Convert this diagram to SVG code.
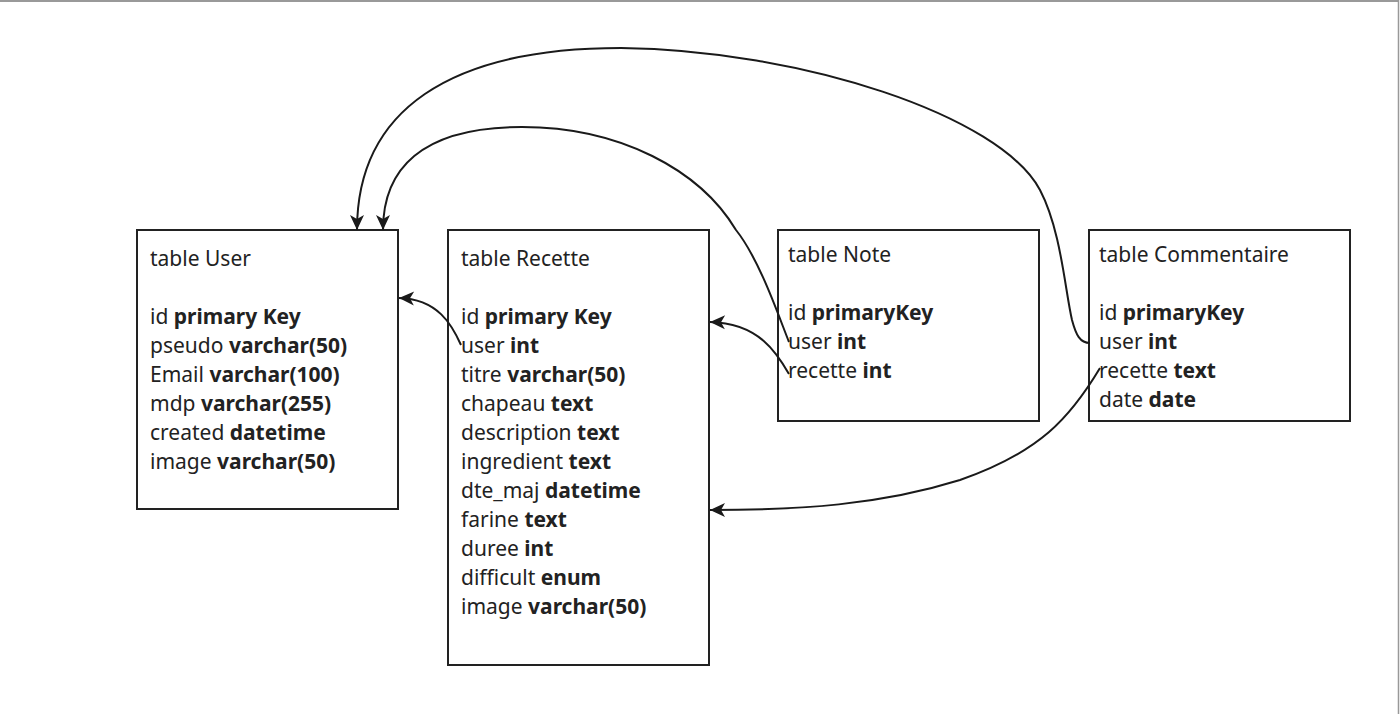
<svg xmlns="http://www.w3.org/2000/svg" width="1400" height="714" viewBox="0 0 1400 714">
<defs>
<style>
.box{fill:#fff;stroke:#222;stroke-width:2}
.t{font-family:"Noto Sans","Open Sans",sans-serif;font-size:21px;fill:#222}
.b{font-weight:bold}
.c{fill:none;stroke:#1a1a1a;stroke-width:2}
</style>
<marker id="arr" markerUnits="userSpaceOnUse" markerWidth="20" markerHeight="20" viewBox="-18 -10 20 20" refX="0" refY="0" orient="auto">
<path d="M0,0 L-15,-7 L-11,0 L-15,7 Z" fill="#1a1a1a"/>
</marker>
</defs>
<rect width="1400" height="714" fill="#fff"/>
<line x1="0" y1="1" x2="1399" y2="1" stroke="#999" stroke-width="2"/>
<line x1="1398.5" y1="0" x2="1398.5" y2="714" stroke="#999" stroke-width="1.5"/>

<g id="user">
<rect class="box" x="137" y="230" width="261" height="279"/>
<text class="t" x="150" y="266">table User</text>
<text class="t" x="150" y="324">id <tspan class="b">primary Key</tspan></text>
<text class="t" x="150" y="353">pseudo <tspan class="b">varchar(50)</tspan></text>
<text class="t" x="150" y="382">Email <tspan class="b">varchar(100)</tspan></text>
<text class="t" x="150" y="411">mdp <tspan class="b">varchar(255)</tspan></text>
<text class="t" x="150" y="440">created <tspan class="b">datetime</tspan></text>
<text class="t" x="150" y="469">image <tspan class="b">varchar(50)</tspan></text>
</g>

<g id="recette">
<rect class="box" x="448" y="230" width="261" height="435"/>
<text class="t" x="461" y="266">table Recette</text>
<text class="t" x="461" y="324">id <tspan class="b">primary Key</tspan></text>
<text class="t" x="461" y="353">user <tspan class="b">int</tspan></text>
<text class="t" x="461" y="382">titre <tspan class="b">varchar(50)</tspan></text>
<text class="t" x="461" y="411">chapeau <tspan class="b">text</tspan></text>
<text class="t" x="461" y="440">description <tspan class="b">text</tspan></text>
<text class="t" x="461" y="469">ingredient <tspan class="b">text</tspan></text>
<text class="t" x="461" y="498">dte_maj <tspan class="b">datetime</tspan></text>
<text class="t" x="461" y="527">farine <tspan class="b">text</tspan></text>
<text class="t" x="461" y="556">duree <tspan class="b">int</tspan></text>
<text class="t" x="461" y="585">difficult <tspan class="b">enum</tspan></text>
<text class="t" x="461" y="614">image <tspan class="b">varchar(50)</tspan></text>
</g>

<g id="note">
<rect class="box" x="778" y="230" width="261" height="191"/>
<text class="t" x="788" y="262">table Note</text>
<text class="t" x="788" y="320">id <tspan class="b">primaryKey</tspan></text>
<text class="t" x="788" y="349">user <tspan class="b">int</tspan></text>
<text class="t" x="788" y="378">recette <tspan class="b">int</tspan></text>
</g>

<g id="commentaire">
<rect class="box" x="1089" y="230" width="261" height="191"/>
<text class="t" x="1099" y="262">table Commentaire</text>
<text class="t" x="1099" y="320">id <tspan class="b">primaryKey</tspan></text>
<text class="t" x="1099" y="349">user <tspan class="b">int</tspan></text>
<text class="t" x="1099" y="378">recette <tspan class="b">text</tspan></text>
<text class="t" x="1099" y="407">date <tspan class="b">date</tspan></text>
</g>

<g id="connectors">
<path class="c" marker-end="url(#arr)" d="M461,345 C452,325 438,299 399,298"/>
<path class="c" marker-end="url(#arr)" d="M789,374 C778,355 760,323 710,322"/>
<path class="c" marker-end="url(#arr)" d="M1100,368 C1070,418 1040,452 960,480 C880,505 800,510 710,510"/>
<path class="c" marker-end="url(#arr)" d="M789,342 C780,320 760,260 736,230 C700,170 620,127 522,127 C420,127 383,170 383,230"/>
<path class="c" marker-end="url(#arr)" d="M1090,343 C1080,343 1076,335 1072,320 C1065,290 1061,230 1040,190 C1000,115 800,50 621,48 C450,48 357,110 357,230"/>
</g>
</svg>
